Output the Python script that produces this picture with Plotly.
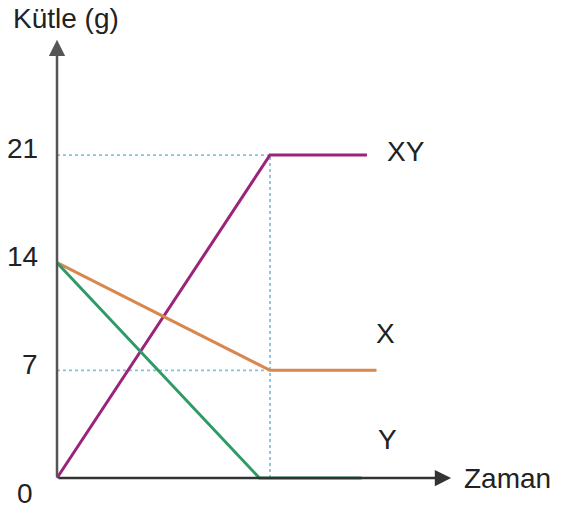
import plotly.graph_objects as go

# time is unitless in the sketch; kink at t=1
t_xy = [0, 1, 1.455]
m_xy = [0, 21, 21]
t_x = [0, 1, 1.50]
m_x = [14, 7, 7]
t_y = [0, 0.95, 1.43]
m_y = [14, 0, 0]

tick_vals = [0, 7, 14, 21]
tick_text = ['0', '7', '14', '21']
series_names = ['XY', 'X', 'Y']

col_xy = '#9a2479'
col_x = '#d8884f'
col_y = '#2f9a68'
guide = '#86c2da'
font = dict(family='Liberation Sans, Arial, sans-serif', size=28, color='#222')

fig = go.Figure()

# dotted guides
fig.add_trace(go.Scatter(x=[0, 1], y=[21, 21], mode='lines',
                         line=dict(color=guide, width=1.8, dash='dot'), hoverinfo='skip'))
fig.add_trace(go.Scatter(x=[0, 1], y=[7, 7], mode='lines',
                         line=dict(color=guide, width=1.8, dash='dot'), hoverinfo='skip'))
fig.add_trace(go.Scatter(x=[1, 1], y=[0, 21], mode='lines',
                         line=dict(color=guide, width=1.8, dash='dot'), hoverinfo='skip'))

for tt, mm, c in [(t_xy, m_xy, col_xy), (t_x, m_x, col_x), (t_y, m_y, col_y)]:
    fig.add_trace(go.Scatter(x=tt, y=mm, mode='lines', line=dict(color=c, width=3)))

# axes with arrows
fig.add_annotation(x=0, y=28.5, ax=0, ay=0, xref='x', yref='y', axref='x', ayref='y',
                   showarrow=True, arrowhead=2, arrowsize=1.3, arrowwidth=2.5, arrowcolor='#555', text='')
fig.add_annotation(x=1.85, y=0, ax=0, ay=0, xref='x', yref='y', axref='x', ayref='y',
                   showarrow=True, arrowhead=2, arrowsize=1.3, arrowwidth=2.5, arrowcolor='#333', text='')

# tick labels
for v, s in zip(tick_vals, tick_text):
    if v == 0:
        fig.add_annotation(x=-0.15, y=-1, text=s, showarrow=False, font=font, xref='x', yref='y')
    else:
        fig.add_annotation(x=-0.08, y=v + 0.4, text=s, showarrow=False, font=font,
                           xanchor='right', xref='x', yref='y')

# series labels
lab_pos = [(1.64, 21.2), (1.54, 9.4), (1.55, 2.5)]
for name, (lx, ly) in zip(series_names, lab_pos):
    fig.add_annotation(x=lx, y=ly, text=name, showarrow=False, font=font, xref='x', yref='y')

fig.add_annotation(x=1.9, y=0, text='Zaman', showarrow=False, font=font,
                   xanchor='left', xref='x', yref='y')
fig.add_annotation(x=0.04, y=29.9, text='Kütle (g)', showarrow=False, font=font,
                   xref='x', yref='y')

fig.update_layout(width=561, height=513, margin=dict(l=0, r=0, t=0, b=0),
                  plot_bgcolor='white', paper_bgcolor='white', showlegend=False)
fig.update_xaxes(range=[-0.2676, 2.366], visible=False)
fig.update_yaxes(range=[-2.276, 31.08], visible=False)

fig.write_html("out.html", config={'displayModeBar': False},
               post_script="document.body.style.margin='0px';")
